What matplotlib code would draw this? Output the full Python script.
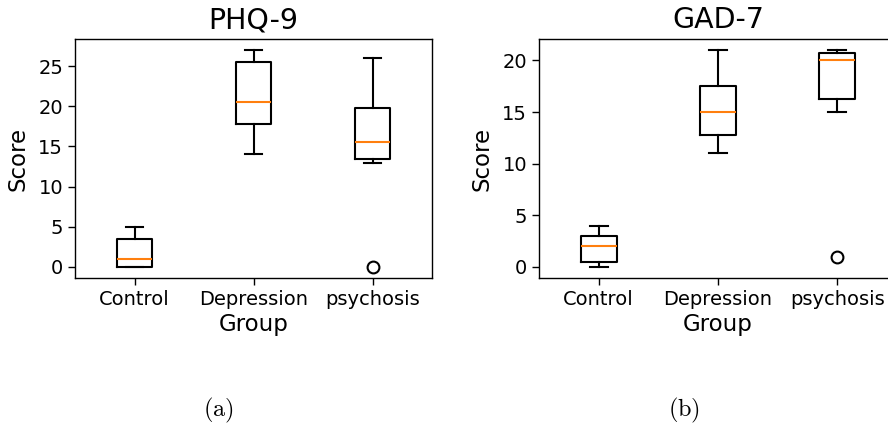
import matplotlib
matplotlib.use('Agg')
import matplotlib.pyplot as plt

# Groups on the x axis
groups = ['Control', 'Depression', 'psychosis']

# PHQ-9 box statistics
phq_whislo = [0, 14, 13]
phq_q1 = [0, 17.75, 13.5]
phq_med = [1, 20.5, 15.5]
phq_q3 = [3.5, 25.5, 19.75]
phq_whishi = [5, 27, 26]
phq_fliers = [[], [], [0]]

# GAD-7 box statistics
gad_whislo = [0, 11, 15]
gad_q1 = [0.5, 12.75, 16.25]
gad_med = [2, 15, 20]
gad_q3 = [3, 17.5, 20.75]
gad_whishi = [4, 21, 21]
gad_fliers = [[], [], [1]]

plt.rcParams['mathtext.fontset'] = 'cm'


# Build the stats dicts that bxp wants
def make_stats(whislo, q1, med, q3, whishi, fliers):
    stats = []
    for i in range(len(groups)):
        stats.append({'label': groups[i], 'whislo': whislo[i], 'q1': q1[i],
                      'med': med[i], 'q3': q3[i], 'whishi': whishi[i],
                      'fliers': fliers[i]})
    return stats


# Draw one boxplot panel
def draw_panel(ax, stats, title):
    lw = 1.5
    ax.bxp(stats, widths=0.3,
           boxprops=dict(linewidth=lw, color='black'),
           whiskerprops=dict(linewidth=lw, color='black'),
           capprops=dict(linewidth=lw, color='black'),
           medianprops=dict(linewidth=lw, color='#ff7f0e'),
           flierprops=dict(marker='o', markersize=8.5, markerfacecolor='none',
                           markeredgecolor='black', markeredgewidth=1.5))
    ax.set_title(title, fontsize=20.5, pad=8)
    ax.set_xlabel('Group', fontsize=16.5, labelpad=3)
    ax.set_ylabel('Score', fontsize=16.5, labelpad=6)
    ax.tick_params(axis='both', labelsize=14, length=5, width=1.0)
    for s in ax.spines.values():
        s.set_linewidth(1.0)


fig = plt.figure(figsize=(8.88, 4.25), dpi=100)
ax1 = fig.add_axes([75 / 888, 1 - 277.7 / 425, 357 / 888, 238.4 / 425])
ax2 = fig.add_axes([539 / 888, 1 - 277.7 / 425, 358 / 888, 238.4 / 425])

draw_panel(ax1, make_stats(phq_whislo, phq_q1, phq_med, phq_q3, phq_whishi, phq_fliers), 'PHQ-9')
draw_panel(ax2, make_stats(gad_whislo, gad_q1, gad_med, gad_q3, gad_whishi, gad_fliers), 'GAD-7')

# Sub-figure captions
fig.text(218 / 888, 1 - 410 / 425, r'$\mathrm{(a)}$', fontsize=17.5, ha='center', va='center')
fig.text(684 / 888, 1 - 410 / 425, r'$\mathrm{(b)}$', fontsize=17.5, ha='center', va='center')

fig.savefig('out.png', dpi=100)
